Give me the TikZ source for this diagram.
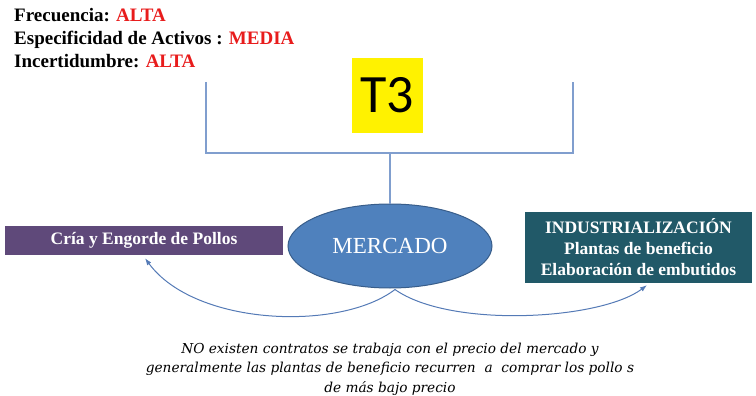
\documentclass[tikz,border=0pt]{standalone}
\usepackage{fontspec}
\setmainfont{Liberation Serif}
\newfontfamily\tfont{Carlito}
\newfontfamily\notefont{DejaVu Serif}
\usetikzlibrary{shapes.geometric,positioning,arrows.meta}
\definecolor{alertred}{RGB}{232,28,28}
\definecolor{bracketblue}{RGB}{128,158,206}
\definecolor{flowblue}{RGB}{84,122,182}
\definecolor{mercadoblue}{RGB}{79,129,189}
\definecolor{mercadoedge}{RGB}{56,93,138}
\definecolor{criapurple}{RGB}{95,73,122}
\definecolor{industeal}{RGB}{33,89,104}

\begin{document}
\begin{tikzpicture}[
    x=1pt, y=-1pt,
    header/.style={inner sep=0pt, anchor=base west, font=\fontsize{19}{23}\selectfont\bfseries},
    actor/.style={rectangle, inner sep=0pt, text=white, align=center,
                  font=\fontsize{17.5}{21}\selectfont\bfseries},
    bracket/.style={draw=bracketblue, line width=1.3pt},
    flow/.style={draw=flowblue, line width=1pt, -{Latex[length=7pt,width=5pt]}}
]
\useasboundingbox (0,0) rectangle (756,396);

% Transaction attributes
\node[header] (frec) at (14,22) {Frecuencia: \textcolor{alertred}{ALTA}};
\node[header] (espec) at (14,45) {Especificidad de Activos : \textcolor{alertred}{MEDIA}};
\node[header] (incert) at (14,68) {Incertidumbre: \textcolor{alertred}{ALTA}};

% Transaction label
\node[fill=yellow, minimum width=71pt, minimum height=75pt, inner sep=0pt,
      font=\tfont\fontsize{54}{60}\selectfont] (t3) at (387.5,95.5) {T3};

% Market
\node[ellipse, fill=mercadoblue, draw=mercadoedge, line width=1pt,
      minimum width=204pt, minimum height=84pt, inner sep=0pt,
      text=white, font=\fontsize{23}{26}\selectfont] (mercado) at (390,246) {MERCADO};

% Actors
\node[actor, fill=criapurple, minimum width=278pt, minimum height=29pt] (cria) at (144,240.5)
    {Cría y Engorde de Pollos};
\node[actor, fill=industeal, minimum width=227pt, minimum height=71pt] (indus) at (638.5,247.5)
    {INDUSTRIALIZACIÓN\\Plantas de beneficio\\Elaboración de embutidos};

% Bracket
\coordinate (brlt) at (206,82);
\coordinate (brlb) at (206,153);
\coordinate (brrt) at (573,82);
\coordinate (brrb) at (573,153);
\coordinate (brmid) at (390,153);
\draw[bracket] (brlt) -- (brlb) -- (brrb) -- (brrt);
\draw[bracket] (brmid) -- (mercado.north);

% Flows
\coordinate (split) at ([xshift=5pt,yshift=-1pt]mercado.south);
\draw[flow] (split) .. controls +(-55,42) and +(50,68) .. ([xshift=1pt,yshift=-3pt]cria.south);
\draw[flow] (split) .. controls +(55,39) and +(-47,35) .. ([xshift=8.5pt,yshift=-2pt]indus.south);

% Note
\node[align=center, font=\notefont\itshape\fontsize{13.7}{19.5}\selectfont] (nota) at (390,369)
    {NO existen contratos se trabaja con el precio del mercado y\\
     generalmente las plantas de beneficio recurren \ a \ comprar los pollo s\\
     de más bajo precio};

\end{tikzpicture}
\end{document}
